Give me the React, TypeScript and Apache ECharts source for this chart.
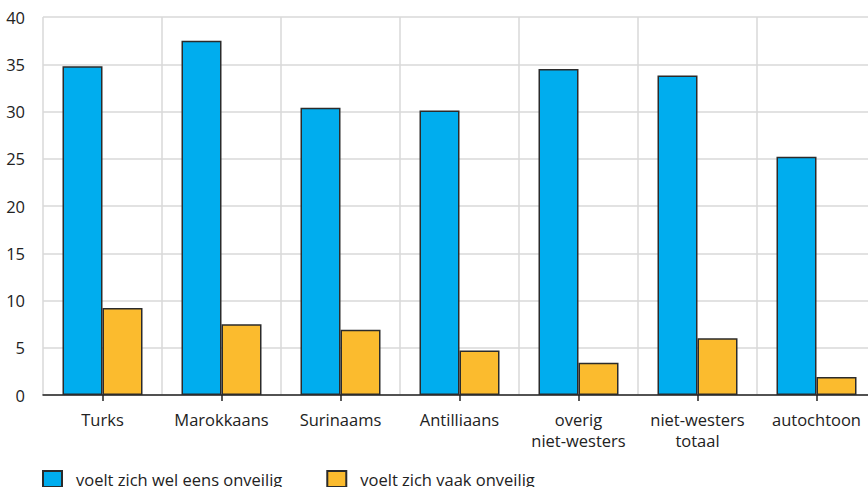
import React, { useEffect, useRef } from "react";
import * as echarts from "echarts";

const categories = [
  "Turks",
  "Marokkaans",
  "Surinaams",
  "Antilliaans",
  "overig\nniet-westers",
  "niet-westers\ntotaal",
  "autochtoon",
];
const welEens = [34.8, 37.5, 30.4, 30.1, 34.5, 33.8, 25.2];
const vaak = [9.2, 7.5, 6.9, 4.7, 3.4, 6.0, 1.9];
const seriesNames = ["voelt zich wel eens onveilig", "voelt zich vaak onveilig"];

const FONT = "'Open Sans', 'Noto Sans', sans-serif";
const TEXT = "#222";
const GRID = "#d9d9d9";
const FS = 16.5;

export default function App() {
  const ref = useRef<HTMLDivElement>(null);
  useEffect(() => {
    if (!ref.current) return;
    const chart = echarts.init(ref.current, undefined, { renderer: "svg" });
    chart.setOption({
      animation: false,
      textStyle: { fontFamily: FONT },
      grid: { left: 43, top: 17, right: 0, bottom: 92, containLabel: false },
      legend: {
        left: 42,
        top: 470,
        padding: 0,
        icon: "rect",
        itemWidth: 19,
        itemHeight: 16,
        itemGap: 44,
        textStyle: { fontSize: FS, color: TEXT, fontFamily: FONT, padding: [0, 0, 0, 9] },
        data: seriesNames,
      },
      xAxis: {
        type: "category",
        data: categories,
        axisLine: { show: true, lineStyle: { color: TEXT, width: 1.5 } },
        axisTick: { show: true, alignWithLabel: true, length: 6, lineStyle: { color: TEXT, width: 1.5 } },
        splitLine: { show: true, lineStyle: { color: GRID, width: 1.5 } },
        axisLabel: { interval: 0, fontSize: FS, color: TEXT, margin: 14, lineHeight: 21, fontFamily: FONT },
      },
      yAxis: {
        type: "value",
        min: 0,
        max: 40,
        interval: 5,
        axisLine: { show: false },
        axisTick: { show: false },
        splitLine: { show: true, lineStyle: { color: GRID, width: 1.5 } },
        axisLabel: { fontSize: FS, color: TEXT, margin: 18, fontFamily: FONT },
      },
      series: [
        {
          name: seriesNames[0],
          type: "bar",
          data: welEens,
          barWidth: 40,
          barGap: "0%",
          itemStyle: { color: "#00adee", borderColor: "#2b2b2b", borderWidth: 1.5 },
        },
        {
          name: seriesNames[1],
          type: "bar",
          data: vaak,
          barWidth: 40,
          barGap: "0%",
          itemStyle: { color: "#fbbb2e", borderColor: "#2b2b2b", borderWidth: 1.5 },
        },
      ],
    });
    return () => chart.dispose();
  }, []);
  return (
    <div style={{ position: "absolute", left: 0, top: 0, width: 868, height: 487, overflow: "hidden" }}>
      <div ref={ref} style={{ width: 876, height: 487 }} />
    </div>
  );
}
